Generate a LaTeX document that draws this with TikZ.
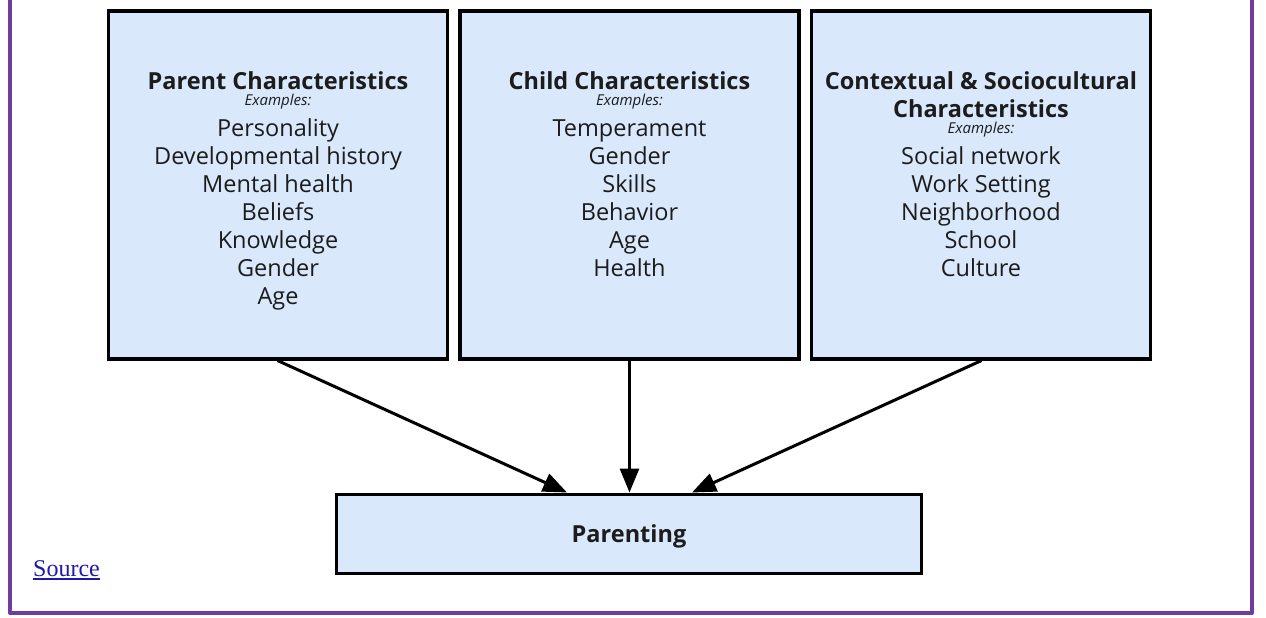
\documentclass[tikz,border=0pt]{standalone}
\usepackage{fontspec}
\setmainfont{Open Sans}
\newfontfamily\linkfont{Liberation Serif}
\usetikzlibrary{arrows.meta}
\definecolor{boxblue}{RGB}{218,232,252}
\definecolor{framepurple}{RGB}{112,60,160}
\definecolor{linkblue}{RGB}{30,25,170}
\definecolor{inkgray}{RGB}{28,28,28}

\begin{document}
\begin{tikzpicture}[line cap=round, line join=round, x=1pt, y=-1pt,
        box/.style={draw=black, fill=boxblue, line width=3.5pt, line join=miter, minimum width=339pt, minimum height=348pt, inner sep=0pt},
        head/.style={font=\fontsize{23.5}{28}\selectfont\bfseries, text=inkgray, anchor=base, inner sep=0pt},
        ex/.style={font=\fontsize{15}{16}\selectfont\itshape, text=inkgray, anchor=base, inner sep=0pt},
        item/.style={font=\fontsize{23.5}{28}\selectfont, text=inkgray, anchor=base, inner sep=0pt},
        arr/.style={line width=3pt, -{Triangle[length=24pt, width=19pt]}}]
                \useasboundingbox (0,0) rectangle (1266,618);
                \clip (0,0) rectangle (1266,618);
                % outer frame, top edge is cut off
                \draw[framepurple, line width=4pt, line cap=butt] (10,-10) -- (10,613) -- (1252,613) -- (1252,-10);
                % the three boxes of characteristics
                \node[box] (parent) at (278,185) {};
                \node[box] (child) at (629.5,185) {};
                \node[box] (context) at (981,185) {};
                \node[box, minimum width=585pt, minimum height=79pt, line width=3pt] (parenting) at (629,533.5) {};
                \node[head] (parenthead) at (278,89) {Parent Characteristics};
                \node[ex] (parentex) at (278,105.5) {Examples:};
                \foreach \txt [count=\i] in {Personality, Developmental history, Mental health, Beliefs, Knowledge, Gender, Age}
                    \node[item] (parent\i) at (278,108+28*\i) {\txt};
                \node[head] (childhead) at (629.5,89) {Child Characteristics};
                \node[ex] (childex) at (629.5,105.5) {Examples:};
                \foreach \txt [count=\i] in {Temperament, Gender, Skills, Behavior, Age, Health}
                    \node[item] (child\i) at (629.5,108+28*\i) {\txt};
                \node[head] (contexthead) at (981,89) {Contextual \& Sociocultural};
                \node[head] (contexthead2) at (981,117) {Characteristics};
                \node[ex] (contextex) at (981,133.5) {Examples:};
                \foreach \txt [count=\i] in {Social network, Work Setting, Neighborhood, School, Culture}
                    \node[item] (context\i) at (981,136+28*\i) {\txt};
                \node[head] (parentinghead) at (629,542) {Parenting};
                % arrows into parenting
                \coordinate (inL) at ([xshift=-62pt]parenting.north);
                \coordinate (inR) at ([xshift=63pt]parenting.north);
                \draw[arr] (parent.south) -- (inL);
                \draw[arr] (child.south) -- (child.south |- parenting.north);
                \draw[arr] (context.south) -- (inR);
                % link below the figure
                \node[anchor=base west, font=\linkfont\fontsize{24}{28}\selectfont, text=linkblue, inner sep=0pt] (source) at (33,576) {Source};
                \draw[linkblue, line width=1.4pt, line cap=butt] ([yshift=-3pt]source.base west) -- ([yshift=-3pt]source.base east);
            \end{tikzpicture}
\end{document}
